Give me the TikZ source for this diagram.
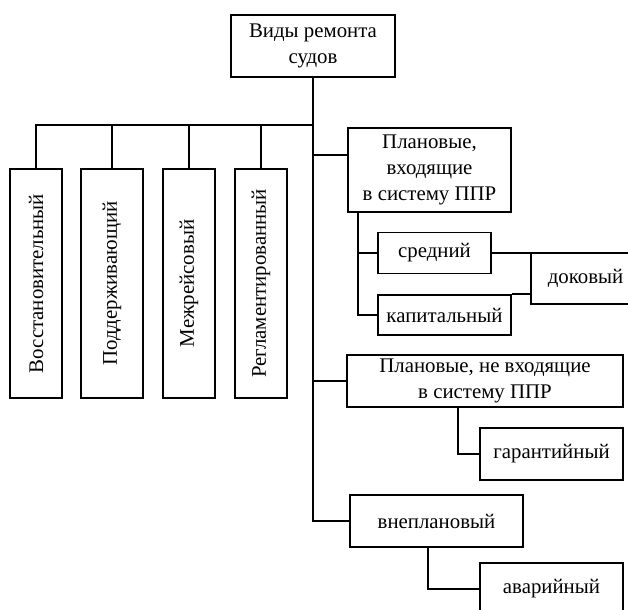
\documentclass[tikz,border=0pt]{standalone}
\usepackage{fontspec}
\setmainfont{Liberation Serif}
\usetikzlibrary{calc, positioning}
\newcommand{\pxu}{0.48pt}
\tikzset{
    repbox/.style={draw=black, line width=0.85pt, inner sep=2pt, align=center,
        font=\fontsize{10}{12.5}\selectfont},
    boxsize/.style 2 args={minimum width=#1*\pxu, minimum height=#2*\pxu},
    vertbox/.style={repbox, rotate=90, boxsize={229}{52}},
    link/.style={line width=0.85pt},
}

\begin{document}
\begin{tikzpicture}[x=0.48pt, y=-0.48pt]
    \useasboundingbox (0,0) rectangle (628,610);

    % root
    \node[repbox, boxsize={164}{62}] (top) at (313,46) {Виды ремонта\\судов};

    % vertical boxes
    \node[vertbox] (v1) at (36,283.5) {Восстановительный};
    \node[vertbox, boxsize={229}{62}] (v2) at (112,283.5) {Поддерживающий};
    \node[vertbox] (v3) at (189,283.5) {Межрейсовый};
    \node[vertbox] (v4) at (261,283.5) {Регламентированный};

    % planned, in PPR
    \node[repbox, boxsize={163}{84}] (plan1) at (429.5,170) {Плановые,\\входящие\\в систему ППР};
    \node[repbox, boxsize={113}{41}] (sred) at (434.5,253) {средний};
    \node[repbox, boxsize={133}{40}] (kap) at (444.5,315) {капитальный};
    \node[repbox, boxsize={109}{51}] (dok) at (585.5,278.5) {доковый};

    % planned, not in PPR
    \node[repbox, boxsize={276}{52}] (plan2) at (485,381) {Плановые, не входящие\\в систему ППР};
    \node[repbox, boxsize={143}{52}] (gar) at (551.5,454) {гарантийный};

    % unplanned
    \node[repbox, boxsize={173}{52}] (vnep) at (436.5,521) {внеплановый};
    \node[repbox, boxsize={143}{52}] (avar) at (551.5,589) {аварийный};

    % connectors
    \coordinate (bar) at (313,125);
    \draw[link] (top.south) |- (vnep.west);
    \draw[link] (v1.east) |- (bar);
    \foreach \v in {v2, v3, v4} {
        \draw[link] (\v.east) -- (\v.east |- bar);
    }
    \draw[link] ($(plan1.west)+(0,-15)$) coordinate (p1in) -- (p1in -| bar);
    \coordinate (p1out) at ($(plan1.south)+(-71.5,0)$);
    \draw[link] (p1out) |- (kap.west);
    \draw[link] (sred.west) -- (sred.west -| p1out);
    \draw[link] (sred.east) -- (sred.east -| dok.west);
    \draw[link] (kap.north east) -- (kap.north east -| dok.west);
    \draw[link] (plan2.west) -- (plan2.west -| bar);
    \coordinate (p2out) at ($(plan2.south)+(-27,0)$);
    \draw[link] (p2out) |- (gar.west);
    \coordinate (vout) at ($(vnep.south)+(-8.5,0)$);
    \draw[link] (vout) |- (avar.west);
\end{tikzpicture}
\end{document}
